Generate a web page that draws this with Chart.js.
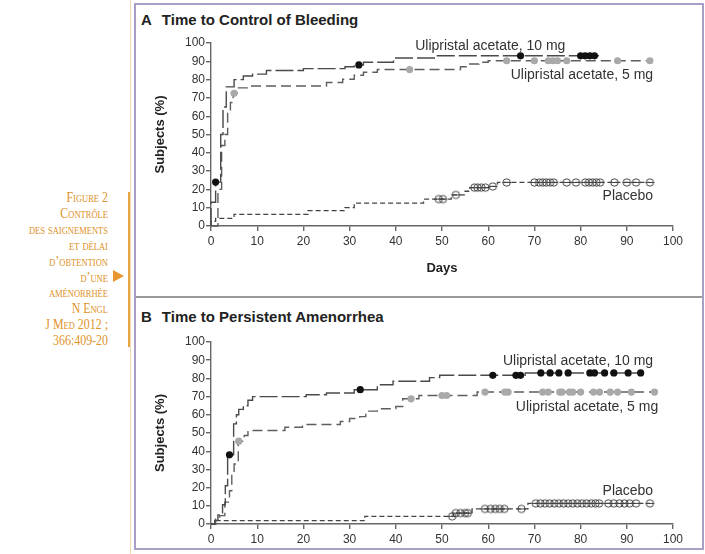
<!DOCTYPE html>
<html>
<head>
<meta charset="utf-8">
<script src="https://cdn.jsdelivr.net/npm/chart.js@4/dist/chart.umd.min.js"></script>
<style>
body { margin:0; width:705px; height:554px; background:#fff; position:relative; overflow:hidden; font-family:"Liberation Sans", Arial, sans-serif; }
.rule { position:absolute; left:130px; top:0; width:1px; height:554px; background:#f2d9ad; }
.rule2 { position:absolute; left:128px; top:192px; width:2px; height:155px; background:#e9a543; }
.tri { position:absolute; left:113px; top:270px; width:0; height:0; border-top:6px solid transparent; border-bottom:6px solid transparent; border-left:11px solid #e8962e; }
.caption { position:absolute; right:597px; top:190px; text-align:right; color:#e0932a; font-family:"Liberation Serif", serif; font-variant:small-caps; font-size:14px; line-height:15.9px; white-space:nowrap; transform:scaleX(0.85); transform-origin:right top; }
.frame { position:absolute; left:134px; top:3px; width:566px; height:543px; border:2px solid #a99ec6; }
.sep { position:absolute; left:136px; top:296px; width:566px; height:2px; background:#9a9a9a; }
.ptitle { position:absolute; left:141px; font-weight:bold; font-size:15px; color:#222; white-space:nowrap; }
.ptitle span { margin-left:10px; }
.box { position:absolute; left:137px; }
</style>
</head>
<body>
<div class="rule"></div>
<div class="rule2"></div>
<div class="tri"></div>
<div class="caption">Figure 2<br>Contrôle<br>des saignements<br>et délai<br>d’obtention<br>d’une<br>aménorrhée<br>N Engl<br>J Med 2012 ;<br>366:409-20</div>
<div class="frame"></div>
<div class="sep"></div>
<div class="ptitle" style="top:11px">A<span>Time to Control of Bleeding</span></div>
<div class="ptitle" style="top:308px">B<span>Time to Persistent Amenorrhea</span></div>
<div class="box" style="top:6px"><canvas id="chartA" width="564" height="290"></canvas></div>
<div class="box" style="top:299px"><canvas id="chartB" width="564" height="248"></canvas></div>
<script>
// Panel A - time to control of bleeding (step points: day, % from that day on)
var a10Days = [0, 1, 2.1, 2.6, 3.3, 5, 7, 9, 12, 20, 29, 31, 33, 39.5, 49, 84];
var a10Vals = [13, 24, 50, 65, 76, 80, 82, 83, 85, 86, 87, 88, 89.5, 91.8, 93, 93];
var a10Cens = [1, 32, 67, 80, 81, 82, 83];
var a5Days = [0, 1.5, 2.3, 3, 3.6, 4.2, 4.8, 5.7, 8, 25, 28.5, 31, 33, 36, 54, 56, 58, 60, 95];
var a5Vals = [0, 20, 44, 50, 62, 67.5, 72.5, 75.5, 76.5, 78.4, 80.2, 82.4, 84, 85.5, 87, 88.5, 89.5, 90.3, 90.3];
var a5Cens = [5, 43, 64, 70, 73, 74, 75, 77, 88, 95];
var aPlDays = [0, 1, 5, 21, 29, 31, 46, 52, 55, 56, 60.5, 62, 95];
var aPlVals = [2.5, 4.2, 6.4, 8.4, 10, 12.5, 14.7, 17, 19, 21, 21.6, 23.8, 23.8];
var aPlCens = [49.3, 50.2, 53, 57, 57.7, 58.5, 59.4, 61, 64, 70, 71, 71.8, 72.6, 73.4, 74.2, 77, 79, 81, 81.8, 82.6, 83.4, 84.2, 87.3, 90, 92, 95];

// Panel B - time to persistent amenorrhea
var b10Days = [0, 0.8, 1.5, 2.5, 3.1, 3.6, 4.9, 5.5, 6, 7, 8, 9, 20.6, 25, 31, 36, 39.4, 47.3, 49.5, 68, 93];
var b10Vals = [0, 2, 5, 10.6, 21, 38, 55, 60, 63, 65, 68, 70, 71, 72, 73.8, 76.5, 78.4, 80.4, 81.7, 83, 83];
var b10Cens = [4, 32.3, 61, 66, 67, 71.4, 73.4, 75.3, 77.3, 82, 83, 85.2, 87.2, 90.3, 93];
var b5Days = [0, 1, 1.9, 3, 4, 4.5, 5, 5.9, 7.2, 8, 16, 19.8, 28, 30, 32.2, 33.5, 36, 40, 41.5, 45, 57.6, 96];
var b5Vals = [0, 2.7, 4.6, 12, 18.3, 27.5, 33, 45.5, 48.6, 51.4, 53.2, 54.7, 56.3, 58, 59, 62, 63.3, 64.6, 68.8, 70.6, 72.5, 72.5];
var b5Cens = [6, 43.3, 50, 51, 59.3, 63.6, 64.3, 71.8, 73, 75.5, 76, 77.6, 78.3, 80, 82.8, 84.1, 86.4, 88, 91, 96];
var bPlDays = [0, 1, 33.3, 52.5, 56.5, 68.6, 95];
var bPlVals = [0, 1.8, 4.2, 6, 8.3, 11.3, 11.3];
var bPlCens = [52.2, 53, 54, 55, 55.6, 59.3, 60.5, 61.5, 62.5, 63.5, 67.2, 70.3, 71.3, 72.3, 73.3, 74.3, 75.3, 76.3, 77.3, 78.3, 79.3, 80.3, 81.3, 82.3, 83.2, 84, 86, 87.2, 88.4, 89.5, 90.6, 92, 95];

var dose10 = 'Ulipristal acetate, 10 mg';
var dose5 = 'Ulipristal acetate, 5 mg';
var placebo = 'Placebo';

Chart.defaults.font.family = '"Liberation Sans", Arial, sans-serif';
Chart.defaults.color = '#333';

function stepAt(days, vals, d) {
    var v = vals[0];
    for (var i = 0; i < days.length; i++) {
        if (days[i] <= d) v = vals[i];
    }
    return v;
}
function curve(days, vals) {
    var pts = [{x: 0, y: 0}];
    for (var i = 0; i < days.length; i++) pts.push({x: days[i], y: vals[i]});
    return pts;
}
function marks(cens, days, vals) {
    return cens.map(function(d){ return {x: d, y: stepAt(days, vals, d)}; });
}

// open circle with the curve running through it
var ring = document.createElement('canvas');
ring.width = 11; ring.height = 11;
var rc = ring.getContext('2d');
rc.strokeStyle = '#444'; rc.lineWidth = 1;
rc.beginPath(); rc.arc(5.5, 5.5, 3.7, 0, Math.PI * 2); rc.stroke();
rc.beginPath(); rc.moveTo(1, 5.5); rc.lineTo(10, 5.5); rc.stroke();

function buildSets(d10, v10, c10, d5, v5, c5, dp, vp, cp) {
    return [
        {data: marks(c10, d10, v10), showLine: false, pointStyle: 'circle', pointRadius: 3.6, backgroundColor: '#111', borderColor: '#111', borderWidth: 0},
        {data: marks(c5, d5, v5), showLine: false, pointStyle: 'circle', pointRadius: 3.6, backgroundColor: '#a9a9a9', borderColor: '#a9a9a9', borderWidth: 0},
        {data: marks(cp, dp, vp), showLine: false, pointStyle: ring, pointRadius: 4},
        {data: curve(d10, v10), showLine: true, stepped: true, pointRadius: 0, borderColor: '#4a4a4a', borderWidth: 1.4, borderDash: [18, 4]},
        {data: curve(d5, v5), showLine: true, stepped: true, pointRadius: 0, borderColor: '#5e5e5e', borderWidth: 1.4, borderDash: [10, 5]},
        {data: curve(dp, vp), showLine: true, stepped: true, pointRadius: 0, borderColor: '#444', borderWidth: 1.3, borderDash: [5, 3]}
    ];
}

var curveLabels = {
    id: 'curveLabels',
    afterDatasetsDraw: function(chart, args, opts) {
        var ctx = chart.ctx;
        ctx.save();
        ctx.font = '14px "Liberation Sans", Arial, sans-serif';
        ctx.fillStyle = '#333';
        ctx.textBaseline = 'middle';
        opts.items.forEach(function(it){
            ctx.textAlign = it.align;
            ctx.fillText(it.text, chart.scales.x.getPixelForValue(it.day), chart.scales.y.getPixelForValue(it.val));
        });
        ctx.restore();
    }
};

function makeChart(id, sets, items, showDays, xh, pad) {
    return new Chart(document.getElementById(id), {
        type: 'scatter',
        data: {datasets: sets},
        plugins: [curveLabels],
        options: {
            responsive: false,
            animation: false,
            devicePixelRatio: 1,
            clip: false,
            layout: {padding: pad},
            plugins: {legend: {display: false}, tooltip: {enabled: false}, curveLabels: {items: items}},
            scales: {
                x: {
                    type: 'linear', min: 0, max: 100,
                    ticks: {stepSize: 10, padding: 3, color: '#333', font: {size: 12}},
                    grid: {drawOnChartArea: false, drawTicks: true, tickLength: 5, color: '#666', lineWidth: 1.4},
                    border: {color: '#666', width: 1.4},
                    title: {display: showDays, text: 'Days', color: '#222', font: {size: 13, weight: 'bold'}, padding: {top: 0, bottom: 2}},
                    afterFit: function(s){ s.height = xh; }
                },
                y: {
                    min: 0, max: 100,
                    ticks: {stepSize: 10, padding: 1, color: '#333', font: {size: 12}},
                    grid: {drawOnChartArea: false, drawTicks: true, tickLength: 5, color: '#666', lineWidth: 1.4},
                    border: {color: '#666', width: 1.4},
                    title: {display: true, text: 'Subjects (%)', color: '#222', font: {size: 13, weight: 'bold'}, padding: {top: 16, bottom: 0}},
                    afterFit: function(s){ s.width = 74; }
                }
            }
        }
    });
}

makeChart('chartA',
    buildSets(a10Days, a10Vals, a10Cens, a5Days, a5Vals, a5Cens, aPlDays, aPlVals, aPlCens),
    [
        {text: dose10, day: 44.2, val: 98.5, align: 'left'},
        {text: dose5, day: 95.7, val: 82.4, align: 'right'},
        {text: placebo, day: 95.7, val: 16.5, align: 'right'}
    ],
    true, 52, {left: 0, right: 28, top: 37, bottom: 18});

makeChart('chartB',
    buildSets(b10Days, b10Vals, b10Cens, b5Days, b5Vals, b5Cens, bPlDays, bPlVals, bPlCens),
    [
        {text: dose10, day: 95.7, val: 89.4, align: 'right'},
        {text: dose5, day: 96.8, val: 64, align: 'right'},
        {text: placebo, day: 95.7, val: 18.3, align: 'right'}
    ],
    false, 23, {left: 0, right: 28, top: 43, bottom: 0});
</script>
</body>
</html>
